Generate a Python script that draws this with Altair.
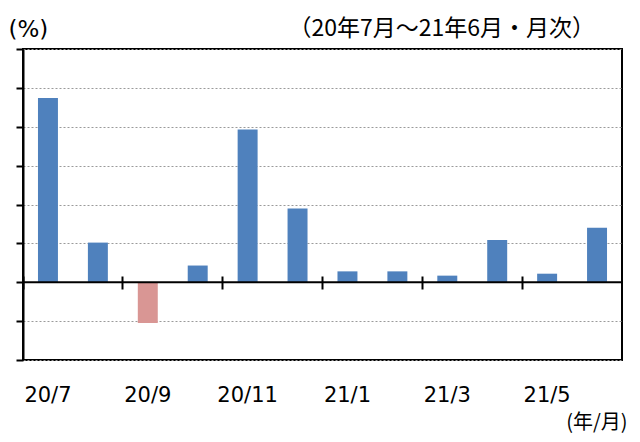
import altair as alt
import pandas as pd

months = ["20/7", "20/8", "20/9", "20/10", "20/11", "20/12",
          "21/1", "21/2", "21/3", "21/4", "21/5", "21/6"]
values = [4.74, 1.02, -1.05, 0.43, 3.93, 1.90, 0.28, 0.28, 0.17, 1.09, 0.22, 1.40]
label_months = ["20/7", "20/9", "20/11", "21/1", "21/3", "21/5"]
y_ticks = [-2, -1, 0, 1, 2, 3, 4, 5, 6]

df = pd.DataFrame({"month": months, "value": values})
df["sign"] = ["neg" if v < 0 else "pos" for v in values]
zero_df = pd.DataFrame({"value": [0]})

JP = "Noto Sans CJK JP"

x = alt.X(
    "month:N", sort=months,
    scale=alt.Scale(domain=months, paddingInner=0, paddingOuter=0),
    axis=alt.Axis(
        values=label_months, bandPosition=0, offset=-84, domain=False,
        tickSize=13, tickWidth=2, tickColor="black", grid=False,
        labelOffset=0, labelPadding=95, labelFont="DejaVu Sans", labelFontSize=21,
        labelColor="black", labelAngle=0, labelOverlap=False,
        title="(年/月)", titleFont=JP, titleFontSize=20, titleFontWeight="normal",
        titleColor="black", titleX=604, titleY=152, titleAlign="right",
        titleBaseline="alphabetic", titleAngle=0,
    ),
)

y_axis = alt.Axis(
    values=y_ticks, labels=False, tickSize=7, tickWidth=2, tickColor="black",
    domainColor="black", domainWidth=2, labelOverlap=False,
    grid=True, gridColor="#9a9a9a", gridDash=[2, 2], gridWidth=1,
    title="(%)", titleAngle=0, titleAlign="left", titleBaseline="alphabetic",
    titleX=-15, titleY=-13, titleFont="DejaVu Sans", titleFontSize=23,
    titleFontWeight="normal", titleColor="black",
)
y_scale = alt.Scale(domain=[-2, 6], nice=False, zero=False)

color = alt.Color("sign:N", scale=alt.Scale(domain=["pos", "neg"], range=["#4F81BD", "#D99694"]), legend=None)

bars = alt.Chart(df).mark_bar(width=alt.RelativeBandSize(0.4)).encode(
    x=x, y=alt.Y("value:Q", scale=y_scale, axis=y_axis), color=color
)
zero = alt.Chart(zero_df).mark_rule(color="black", strokeWidth=2).encode(
    y=alt.Y("value:Q", scale=y_scale, axis=y_axis)
)

chart = alt.layer(bars, zero).properties(
    width=599, height=311,
    padding={"left": 15, "top": 41, "right": 10, "bottom": 76},
    autosize=alt.AutoSizeParams(type="none"),
    title=alt.TitleParams(
        text="（20年7月～21年6月・月次）", anchor="end", frame="group", dx=-27, offset=-41,
        baseline="alphabetic", font=JP, fontSize=23, fontWeight="normal", color="black",
    ),
).configure_view(stroke="black", strokeWidth=2)

chart.save("out.html", embed_options={"renderer": "svg", "actions": False})
